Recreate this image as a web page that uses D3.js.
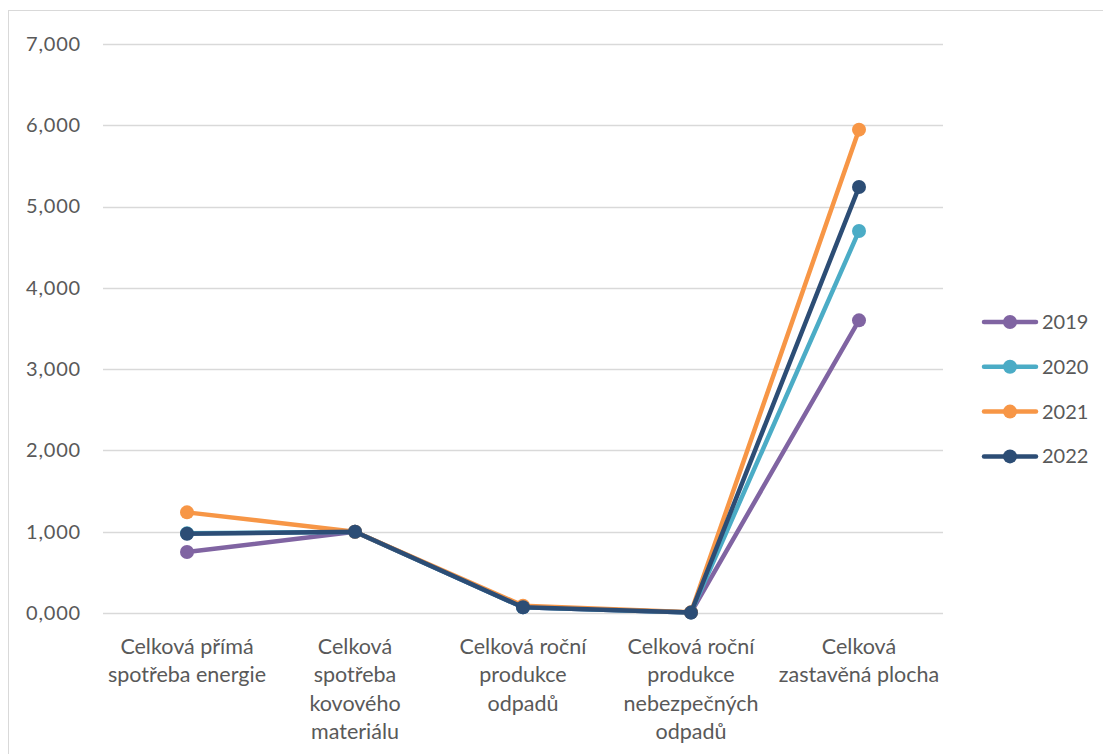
<!DOCTYPE html>
<html>
<head>
<meta charset="utf-8">
<script src="https://cdn.jsdelivr.net/npm/d3@7"></script>
<style>
  html, body { margin: 0; padding: 0; background: #fff; }
  svg { display: block; }
  text { font-family: Lato, "Open Sans", sans-serif; fill: #595959; }
</style>
</head>
<body>
<svg id="chart" width="1103" height="754"></svg>
<script>
// Indicator categories (each label split into lines)
const categories = [
  ["Celková přímá", "spotřeba energie"],
  ["Celková", "spotřeba", "kovového", "materiálu"],
  ["Celková roční", "produkce", "odpadů"],
  ["Celková roční", "produkce", "nebezpečných", "odpadů"],
  ["Celková", "zastavěná plocha"]
];
const years = ["2019", "2020", "2021", "2022"];
const values2019 = [0.750, 1.000, 0.070, 0.005, 3.600];
const values2020 = [0.980, 1.000, 0.070, 0.005, 4.700];
const values2021 = [1.238, 1.000, 0.090, 0.008, 5.946];
const values2022 = [0.975, 1.000, 0.070, 0.005, 5.240];
const yTicks = [0, 1, 2, 3, 4, 5, 6, 7];
const colors = ["#8064A2", "#4BACC6", "#F79646", "#2C4D75"];

const series = [values2019, values2020, values2021, values2022];

const svg = d3.select("#chart");
const W = 1103, H = 754;

// outer chart frame
svg.append("rect")
  .attr("x", 8.5).attr("y", 10.5)
  .attr("width", W + 10).attr("height", H + 10)
  .attr("fill", "none").attr("stroke", "#d9d9d9").attr("stroke-width", 1);

const plot = { left: 103, right: 943, top: 44, bottom: 613 };

const x = d3.scaleBand()
  .domain(d3.range(categories.length))
  .range([plot.left, plot.right]);

const y = d3.scaleLinear()
  .domain([0, 7])
  .range([plot.bottom, plot.top]);

const czFormat = d3.formatLocale({ decimal: ",", thousands: "\u00a0", grouping: [3], currency: ["", " Kč"] }).format(".3f");

// horizontal gridlines
svg.append("g")
  .selectAll("line")
  .data(yTicks)
  .join("line")
  .attr("x1", plot.left).attr("x2", plot.right)
  .attr("y1", d => Math.round(y(d)) + 0.5).attr("y2", d => Math.round(y(d)) + 0.5)
  .attr("stroke", "#d9d9d9").attr("stroke-width", 1.5);

// y-axis labels
const yAxis = d3.axisLeft(y).tickValues(yTicks).tickFormat(czFormat).tickSize(0).tickPadding(0);
const gy = svg.append("g")
  .attr("transform", `translate(81,0)`)
  .call(yAxis);
gy.select(".domain").remove();
gy.selectAll("text")
  .style("font-family", "Lato, 'Open Sans', sans-serif")
  .style("font-size", "20px")
  .style("letter-spacing", "0.8px")
  .attr("fill", "#595959");

// category labels
const catG = svg.append("g");
categories.forEach((lines, i) => {
  const t = catG.append("text")
    .attr("x", x(i) + x.bandwidth() / 2)
    .attr("y", 646)
    .attr("text-anchor", "middle")
    .style("font-size", "21.5px");
  lines.forEach((ln, j) => {
    t.append("tspan")
      .attr("x", x(i) + x.bandwidth() / 2)
      .attr("dy", j === 0 ? "0.35em" : "28.5px")
      .text(ln);
  });
});

// series lines and markers
const line = d3.line()
  .x((d, i) => x(i) + x.bandwidth() / 2)
  .y(d => y(d));

series.forEach((vals, s) => {
  const g = svg.append("g");
  g.append("path")
    .datum(vals)
    .attr("d", line)
    .attr("fill", "none")
    .attr("stroke", colors[s])
    .attr("stroke-width", 4.5)
    .attr("stroke-linejoin", "round")
    .attr("stroke-linecap", "round");
  g.selectAll("circle")
    .data(vals)
    .join("circle")
    .attr("cx", (d, i) => x(i) + x.bandwidth() / 2)
    .attr("cy", d => y(d))
    .attr("r", 7)
    .attr("fill", colors[s]);
});

// legend
const legend = svg.append("g");
years.forEach((yr, i) => {
  const cy = 322 + i * 44.8;
  legend.append("line")
    .attr("x1", 984).attr("x2", 1036)
    .attr("y1", cy).attr("y2", cy)
    .attr("stroke", colors[i]).attr("stroke-width", 4.5)
    .attr("stroke-linecap", "round");
  legend.append("circle")
    .attr("cx", 1010).attr("cy", cy).attr("r", 7)
    .attr("fill", colors[i]);
  legend.append("text")
    .attr("x", 1042).attr("y", cy)
    .attr("dy", "0.35em")
    .style("font-size", "20px")
    .text(yr);
});
</script>
</body>
</html>
